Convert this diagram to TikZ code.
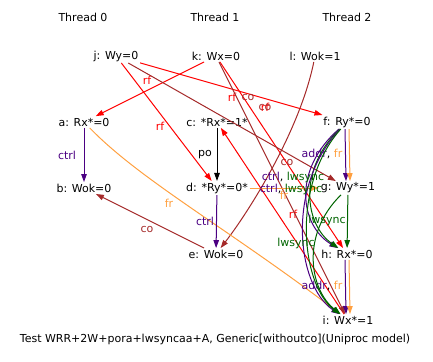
\documentclass[tikz,border=0pt]{standalone}
\usepackage{fontspec}
\setmainfont{DejaVu Sans}
\usetikzlibrary{arrows.meta}
\definecolor{rfred}{RGB}{255,0,0}
\definecolor{cobrown}{RGB}{165,42,42}
\definecolor{ctrlpurple}{RGB}{75,0,130}
\definecolor{frorange}{RGB}{255,160,64}
\definecolor{syncgreen}{RGB}{0,100,0}
\begin{document}
\begin{tikzpicture}[x=1pt,y=-1pt,
  font=\fontsize{11}{13}\selectfont,
  every node/.style={inner sep=1.5pt},
  rel/.style={line width=1pt,-{Triangle[length=8pt,width=5.5pt]}},
  lab/.style={inner sep=0pt}]
\useasboundingbox (0,0) rectangle (433,361);
% Threads
\foreach \x/\t in {83/0,215/1,347/2}
    \node (t\t) at (\x,17) {Thread \t};
% Events
\node (j) at (116,56) {j: Wy=0};
\node (k) at (216,56) {k: Wx=0};
\node (l) at (315,56) {l: Wok=1};
\node (a) at (84,122) {a: Rx*=0};
\node (c) at (217,122) {c: *Rx*=1*};
\node (f) at (347,122) {f: Ry*=0};
\node (b) at (84,188) {b: Wok=0};
\node (d) at (217,188) {d: *Ry*=0*};
\node (g) at (348,188) {g: Wy*=1};
\node (e) at (216,254) {e: Wok=0};
\node (h) at (347,254) {h: Rx*=0};
\node (i) at (348,320) {i: Wx*=1};
\node (cap) at (215,339) {Test WRR+2W+pora+lwsyncaa+A, Generic[withoutco](Uniproc model)};
% rf
\draw[rel,rfred] (k) -- (a) node[lab,at={(147,80)}] {rf};
\draw[rel,rfred] (j) -- (d) node[lab,at={(160,126)}] {rf};
\draw[rel,rfred] (j) -- (f) node[lab,at={(232,97)}] {rf};
\draw[rel,rfred] (k) -- (h) node[lab,at={(265,107)}] {rf};
\draw[rel,rfred] (i) -- (c) node[lab,at={(293,214)}] {rf};
% co
\draw[rel,cobrown] (j) -- (g) node[lab,at={(248,97)}] {co};
\draw[rel,cobrown] (k) -- (i) node[lab,at={(265,107)}] {co};
\draw[rel,cobrown] (l) .. controls (300,130) and (250,210) .. (e) node[lab,at={(287,162)}] {co};
\draw[rel,cobrown] (e) -- (b) node[lab,at={(147,229)}] {co};
% fr
\draw[rel,frorange] (a) .. controls (140,180) and (230,230) .. (i) node[lab,at={(169,203)}] {fr};
\draw[rel,frorange] (d) -- (g) node[lab,at={(284,195)}] {fr};
% po, ctrl, addr
\draw[rel] (c) -- (d) node[lab,at={(205,155)}] {po};
\draw[rel,ctrlpurple] (a) -- (b) node[lab,at={(67,155)}] {ctrl};
\draw[rel,ctrlpurple] (d) -- (e) node[lab,at={(205,221)}] {ctrl};
\draw[rel,ctrlpurple] ([xshift=-2pt]f.south) -- ([xshift=-2pt]g.north);
\draw[rel,frorange] ([xshift=2pt]f.south) -- ([xshift=2pt]g.north)
    node[lab,at={(322,154)}] {\textcolor{ctrlpurple}{addr}\textcolor{black}{,} fr};
\draw[rel,ctrlpurple] ([xshift=-2pt]h.south) -- ([xshift=-2pt]i.north);
\draw[rel,frorange] ([xshift=2pt]h.south) -- ([xshift=2pt]i.north)
    node[lab,at={(322,286)}] {\textcolor{ctrlpurple}{addr}\textcolor{black}{,} fr};
% ctrl, lwsync from f
\draw[rel,ctrlpurple] (f) .. controls (292,170) and (300,225) .. (h);
\draw[rel,syncgreen] (f) .. controls (297,170) and (305,225) .. (h)
    node[lab,at={(293,177)}] {\textcolor{ctrlpurple}{ctrl}\textcolor{black}{,} lwsync};
\draw[rel,ctrlpurple] (f) .. controls (286,185) and (296,285) .. (i);
\draw[rel,syncgreen] (f) .. controls (291,185) and (301,285) .. (i)
    node[lab,at={(291,189)}] {\textcolor{ctrlpurple}{ctrl}\textcolor{black}{,} lwsync};
% lwsync from g
\draw[rel,syncgreen] (g) -- (h) node[lab,at={(327,220)}] {lwsync};
\draw[rel,syncgreen] (g) .. controls (300,235) and (310,290) .. (i) node[lab,at={(296,243)}] {lwsync};
\end{tikzpicture}
\end{document}
